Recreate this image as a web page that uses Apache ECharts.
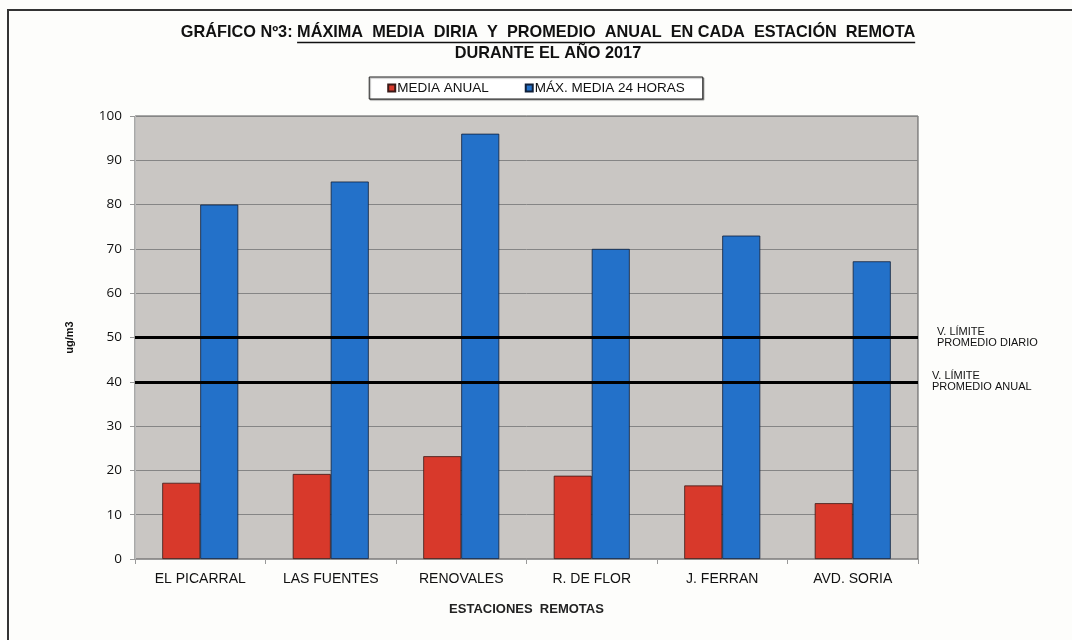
<!DOCTYPE html>
<html><head><meta charset="utf-8">
<script src="https://cdn.jsdelivr.net/npm/echarts@6/dist/echarts.min.js"></script>
<style>html,body{margin:0;padding:0;background:#fdfdfb;}#c{width:1072px;height:640px;}</style>
</head><body><div id="c"></div>
<script>
const categories = ['EL PICARRAL', 'LAS FUENTES', 'RENOVALES', 'R. DE FLOR', 'J. FERRAN', 'AVD. SORIA'];
const mediaAnual = [17.2, 19.2, 23.2, 18.8, 16.6, 12.6];
const maxMedia24h = [80, 85.2, 96, 70, 73, 67.2];
const yTicks = [0, 10, 20, 30, 40, 50, 60, 70, 80, 90, 100];
const limitDiario = 50;
const limitAnual = 40;
const seriesNames = ['MEDIA ANUAL', 'MÁX. MEDIA 24 HORAS'];
const titlePart1 = 'GRÁFICO Nº3: ';
const titlePart2 = 'MÁXIMA  MEDIA  DIRIA  Y  PROMEDIO  ANUAL  EN CADA  ESTACIÓN  REMOTA';
const titleLine2 = 'DURANTE EL AÑO 2017';

const fam = "'Liberation Sans', Arial, sans-serif";
const titleFont = 'bold 16.3px ' + fam;
const ctx = document.createElement('canvas').getContext('2d');
ctx.font = titleFont;
const w1 = ctx.measureText(titlePart1).width;
const w2 = ctx.measureText(titlePart2).width;
const w3 = ctx.measureText(titleLine2).width;
const cx = 548;
const startX = cx - (w1 + w2) / 2;

const chart = echarts.init(document.getElementById('c'));
chart.setOption({
  backgroundColor: '#fdfdfb',
  animation: false,
  graphic: [
    { type: 'rect', shape: { x: 8, y: 10, width: 1100, height: 700 }, style: { fill: 'none', stroke: '#333', lineWidth: 2 }, silent: true },
    { type: 'text', left: startX, top: 25, style: { text: titlePart1, font: titleFont, fill: '#111' } },
    { type: 'text', left: startX + w1, top: 25, style: { text: titlePart2, font: titleFont, fill: '#111' } },
    { type: 'line', shape: { x1: startX + w1, y1: 42.5, x2: startX + w1 + w2, y2: 42.5 }, style: { stroke: '#111', lineWidth: 1.5 } },
    { type: 'text', left: cx - w3 / 2, top: 46, style: { text: titleLine2, font: titleFont, fill: '#111' } }
  ],
  legend: {
    top: 77, left: 'center',
    data: seriesNames,
    icon: 'rect', itemWidth: 7, itemHeight: 7, itemGap: 36,
    backgroundColor: '#fff', borderColor: '#222', borderWidth: 1,
    padding: [4, 18, 4, 18],
    shadowColor: 'rgba(0,0,0,0.35)', shadowOffsetX: 1, shadowOffsetY: 1, shadowBlur: 1,
    textStyle: { fontFamily: fam, fontSize: 13.5, color: '#111', padding: [0, 0, 0, -3] }
  },
  grid: { left: 135, right: 154, top: 116, bottom: 81, show: true, backgroundColor: '#c9c6c3', borderColor: '#555', borderWidth: 1 },
  xAxis: {
    type: 'category', data: categories,
    name: 'ESTACIONES  REMOTAS', nameLocation: 'middle', nameGap: 44,
    nameTextStyle: { fontFamily: fam, fontSize: 13, fontWeight: 'bold', color: '#222' },
    axisLine: { lineStyle: { color: '#999' } },
    axisTick: { show: true, length: 5, lineStyle: { color: '#999' } },
    axisLabel: { fontFamily: fam, fontSize: 14, color: '#111', margin: 13 }
  },
  yAxis: {
    type: 'value', min: yTicks[0], max: yTicks[yTicks.length - 1], interval: 10,
    name: 'ug/m3', nameLocation: 'middle', nameGap: 60, nameRotate: 90,
    nameTextStyle: { fontFamily: fam, fontSize: 11, fontWeight: 'bold', color: '#111' },
    axisLine: { show: true, lineStyle: { color: '#bbb' } },
    axisTick: { show: true, length: 5, lineStyle: { color: '#999' } },
    axisLabel: { fontFamily: "'Open Sans', sans-serif", fontSize: 13.5, color: '#111', margin: 13 },
    splitLine: { lineStyle: { color: '#858585', width: 1 } }
  },
  series: [
    {
      name: seriesNames[0], type: 'bar', data: mediaAnual, barWidth: 38, barGap: '0%',
      itemStyle: { color: '#d8392b', borderColor: '#3a1a18', borderWidth: 0.8 },
      markLine: {
        symbol: 'none', silent: true,
        lineStyle: { color: '#000', width: 3, type: 'solid' },
        label: { show: true, position: 'end', distance: 19, color: '#111', fontFamily: fam, fontSize: 11, lineHeight: 11, align: 'left' },
        data: [
          { yAxis: limitDiario, label: { formatter: 'V. LÍMITE\nPROMEDIO DIARIO' } },
          { yAxis: limitAnual, label: { formatter: 'V. LÍMITE\nPROMEDIO ANUAL', distance: 14 } }
        ]
      }
    },
    {
      name: seriesNames[1], type: 'bar', data: maxMedia24h, barWidth: 38,
      itemStyle: { color: '#2371c9', borderColor: '#10203a', borderWidth: 0.8 }
    }
  ]
});
</script>
</body></html>
